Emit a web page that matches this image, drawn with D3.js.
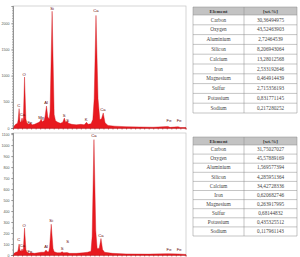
<!DOCTYPE html>
<html>
<head>
<meta charset="utf-8">
<script src="https://cdn.jsdelivr.net/npm/d3@7"></script>
<style>
  body { margin: 0; background: #fff; }
  svg { display: block; }
  .axis path, .axis line { stroke: #777; stroke-width: 0.5; }
  .axis text { fill: #555; font-family: Arial, "Liberation Sans", sans-serif; font-size: 3.6px; }
  .xaxis path, .xaxis line { stroke: #c0161c; stroke-width: 0.6; }
</style>
</head>
<body>
<div id="chart"></div>
<script>
// energy (keV), counts - outline of the spectra
const topSpectrum = [
  [0.00,0],[0.05,40],[0.12,70],[0.20,90],[0.23,160],[0.27,370],[0.31,120],[0.35,110],
  [0.40,190],[0.44,120],[0.46,200],[0.51,974],[0.57,170],[0.62,90],[0.70,70],[0.76,95],
  [0.85,60],[0.95,70],[1.05,90],[1.15,110],[1.20,130],[1.24,170],[1.30,120],[1.38,150],
  [1.42,230],[1.48,420],[1.54,210],[1.60,170],[1.64,320],[1.73,2230],[1.82,260],[1.88,140],
  [1.98,110],[2.10,90],[2.20,110],[2.27,190],[2.33,110],[2.40,130],[2.45,90],[2.60,70],
  [2.80,60],[3.00,70],[3.15,60],[3.25,110],[3.32,70],[3.45,80],[3.53,160],[3.59,560],
  [3.67,2150],[3.76,560],[3.84,160],[3.91,170],[3.99,287],[4.07,100],[4.20,50],[4.50,35],
  [5.00,25],[5.60,20],[6.20,15],[6.85,30],[6.95,12],[7.30,25],[7.40,10],[7.65,8]
]
const bottomSpectrum = [
  [0.00,0],[0.05,15],[0.12,25],[0.20,30],[0.23,50],[0.27,100],[0.31,40],[0.36,35],
  [0.40,55],[0.44,35],[0.46,60],[0.51,245],[0.57,50],[0.62,25],[0.72,15],[0.80,20],
  [0.95,15],[1.10,20],[1.25,25],[1.38,25],[1.42,35],[1.46,45],[1.51,30],[1.58,30],
  [1.62,70],[1.69,280],[1.77,60],[1.82,30],[1.95,20],[2.10,20],[2.17,30],[2.24,20],
  [2.39,22],[2.50,15],[2.80,15],[3.10,20],[3.30,25],[3.45,35],[3.50,170],[3.58,1050],
  [3.66,220],[3.72,60],[3.81,60],[3.89,150],[3.96,50],[4.05,25],[4.40,15],[5.00,10],
  [6.00,8],[6.85,12],[7.30,10],[7.65,5]
]

// peak labels: name, energy, counts
const topLabels = [
  ["C",0.25,401],["Ca",0.42,220],["O",0.49,993],["Fe",0.75,67],["Mg",1.24,181],
  ["Al",1.46,449],["Si",1.73,2263],["S",2.26,210],["S",2.42,115],["K",3.23,134],
  ["Ca",3.67,2206],["Ca",3.98,325],["Fe",6.9,124],["Fe",7.35,124]
]
const bottomLabels = [
  ["C",0.25,123],["Ca",0.42,77],["O",0.49,259],["Fe",0.75,14],["Al",1.46,68],
  ["Si",1.69,296],["S",2.17,50],["S",2.42,105],["Ca",3.58,1078],["Ca",3.89,168],
  ["Fe",6.9,32],["Fe",7.35,32]
]

const topTicks = [0, 500, 1000, 1500, 2000]
const bottomTicks = [0, 100, 200, 300, 400, 500, 600, 700, 800, 900, 1000, 1100]

const elements = ["Carbon","Oxygen","Aluminium","Silicon","Calcium","Iron","Magnesium","Sulfur","Potassium","Sodium"]
const topWt = ["30,36494975","43,52463903","2,72464539","8,206943064","13,28012568","2,533192646","0,464914439","2,715356193","0,831771145","0,217280252"]
const bottomWt = ["31,75027027","45,57889169","1,569577394","4,285951364","34,42728336","0,620682746","0,263917995","0,68144832","0,435325512","0,117961143"]
const header = ["Element", "[wt.%]"]

const W = 300, H = 257
const svg = d3.select("#chart").append("svg").attr("width", W).attr("height", H)

const x = d3.scaleLinear().domain([0, 7.65]).range([13, 186])

function drawSpectrum(spectrum, labels, ticks, yMax, top, base) {
  const y = d3.scaleLinear().domain([0, yMax]).range([base, top])
  const g = svg.append("g")

  // frame
  g.append("rect")
    .attr("x", x.range()[0]).attr("y", top)
    .attr("width", x.range()[1] - x.range()[0]).attr("height", base - top)
    .attr("fill", "none").attr("stroke", "#c4c4c4").attr("stroke-width", 0.7)

  const area = d3.area()
    .x(d => x(d[0]))
    .y0(base)
    .y1(d => y(d[1]))
  g.append("path").datum(spectrum)
    .attr("d", area)
    .attr("fill", "#e8191f")
    .attr("stroke", "#d0141a").attr("stroke-width", 0.4)

  // minor ticks
  g.append("g").attr("class", "axis")
    .attr("transform", `translate(${x.range()[0]},0)`)
    .call(d3.axisLeft(y).ticks(yMax / 50).tickSize(1).tickFormat(""))
  g.append("g").attr("class", "axis")
    .attr("transform", `translate(${x.range()[0]},0)`)
    .call(d3.axisLeft(y).tickValues(ticks).tickSize(2).tickPadding(1.5).tickFormat(d3.format("d")))

  g.append("g").attr("class", "xaxis")
    .attr("transform", `translate(0,${base})`)
    .call(d3.axisBottom(x).ticks(40).tickSize(1.5).tickFormat(""))

  g.selectAll(".lbl").data(labels).join("text")
    .attr("class", "lbl")
    .attr("x", d => x(d[1]))
    .attr("y", d => y(d[2]))
    .attr("text-anchor", "middle")
    .attr("font-family", "Arial, 'Liberation Sans', sans-serif")
    .attr("font-size", 4.2)
    .attr("fill", "#5e0606")
    .text(d => d[0])
}

drawSpectrum(topSpectrum, topLabels, topTicks, 2330, 6, 128)
drawSpectrum(bottomSpectrum, bottomLabels, bottomTicks, 1110, 133, 255)

function drawTable(values, top, rowH, headH) {
  const left = 193, mid = 244, right = 297
  const g = svg.append("g")
  const rows = elements.map((e, i) => [e, values[i]])

  g.append("rect").attr("x", left).attr("y", top).attr("width", right - left).attr("height", headH)
    .attr("fill", "#c3c3c3")
  g.selectAll(".hd").data(header).join("text")
    .attr("x", (d, i) => i === 0 ? (left + mid) / 2 : (mid + right) / 2)
    .attr("y", top + headH / 2 + 1.6)
    .attr("text-anchor", "middle")
    .attr("font-family", "'Liberation Serif', serif")
    .attr("font-weight", "bold")
    .attr("font-size", 5)
    .attr("fill", "#333")
    .text(d => d)

  const rg = g.selectAll(".row").data(rows).join("g")
    .attr("transform", (d, i) => `translate(0,${top + headH + i * rowH})`)
  rg.append("text")
    .attr("x", (left + mid) / 2).attr("y", rowH / 2 + 1.7)
    .attr("text-anchor", "middle")
    .attr("font-family", "'Liberation Serif', serif").attr("font-size", 5.2).attr("fill", "#444")
    .text(d => d[0])
  rg.append("text")
    .attr("x", (mid + right) / 2).attr("y", rowH / 2 + 1.7)
    .attr("text-anchor", "middle")
    .attr("font-family", "'Liberation Serif', serif").attr("font-size", 5.2).attr("fill", "#444")
    .text(d => d[1])

  const bottom = top + headH + rows.length * rowH
  const hy = d3.range(rows.length + 1).map(i => top + headH + i * rowH)
  g.selectAll(".hl").data([top].concat(hy)).join("line")
    .attr("x1", left).attr("x2", right).attr("y1", d => d).attr("y2", d => d)
    .attr("stroke", "#8a8a8a").attr("stroke-width", 0.5)
  g.selectAll(".vl").data([left, mid, right]).join("line")
    .attr("x1", d => d).attr("x2", d => d).attr("y1", top).attr("y2", bottom)
    .attr("stroke", "#8a8a8a").attr("stroke-width", 0.5)
}

drawTable(topWt, 7, 9.8, 8)
drawTable(bottomWt, 137, 9.1, 8)
</script>
</body>
</html>
